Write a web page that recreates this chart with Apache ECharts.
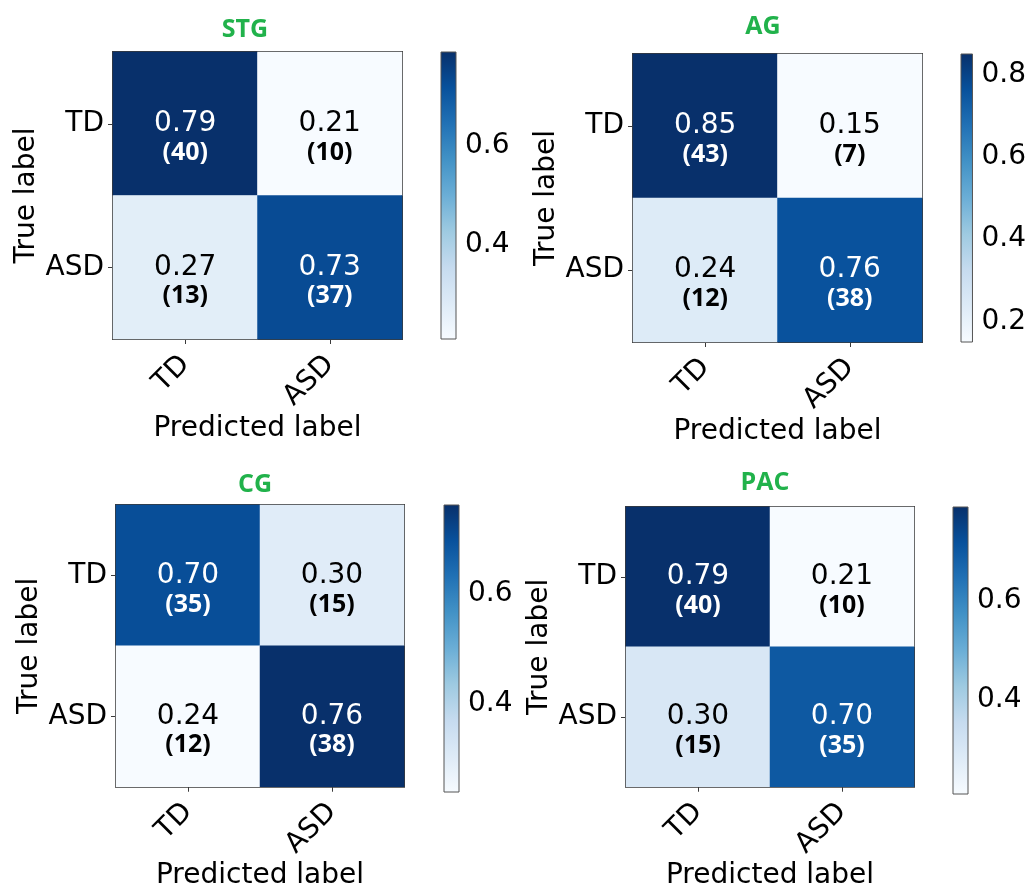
<!DOCTYPE html>
<html>
<head>
<meta charset="utf-8">
<title>Confusion matrices</title>
<script src="https://cdn.jsdelivr.net/npm/echarts@6/dist/echarts.min.js"></script>
<style>
  html, body { margin: 0; padding: 0; background: #fff; }
  #chart { width: 1029px; height: 891px; }
</style>
</head>
<body>
<div id="chart"></div>
<script>
// Class labels shared by every matrix (rows = true label, columns = predicted label)
const categories = ['TD', 'ASD'];

// Region names, one matrix each
const regions = ['STG', 'AG', 'CG', 'PAC'];

// Normalised rates per region [row][col]
const ratesSTG = [[0.79, 0.21], [0.27, 0.73]];
const ratesAG  = [[0.85, 0.15], [0.24, 0.76]];
const ratesCG  = [[0.70, 0.30], [0.24, 0.76]];
const ratesPAC = [[0.79, 0.21], [0.30, 0.70]];

// Raw counts per region [row][col]
const countsSTG = [[40, 10], [13, 37]];
const countsAG  = [[43, 7], [12, 38]];
const countsCG  = [[35, 15], [12, 38]];
const countsPAC = [[40, 10], [15, 35]];

// Colour bar tick values per region
const ticksSTG = [0.4, 0.6];
const ticksAG  = [0.2, 0.4, 0.6, 0.8];
const ticksCG  = [0.4, 0.6];
const ticksPAC = [0.4, 0.6];

const rates = [ratesSTG, ratesAG, ratesCG, ratesPAC];
const counts = [countsSTG, countsAG, countsCG, countsPAC];
const cbTicks = [ticksSTG, ticksAG, ticksCG, ticksPAC];

// Sequential "Blues" colour map
const BLUES = ['#f7fbff', '#deebf7', '#c6dbef', '#9ecae1', '#6baed6',
               '#4292c6', '#2171b5', '#08519c', '#08306b'];

// Panel placement: matrix box, colour bar box, title anchor
const layout = [
  { m: [113, 52, 289, 287], cb: [441, 52, 15, 287], t: [245, 30] },
  { m: [633, 54, 289, 288], cb: [961, 54, 15, 288], t: [763, 27] },
  { m: [116, 505, 288, 287], cb: [444, 505, 15, 287], t: [255, 485] },
  { m: [626, 507, 288, 287], cb: [953, 507, 15, 287], t: [765, 483] }
];

const FONT = 'DejaVu Sans';
const BOLD_FONT = 'Open Sans';
const FS = 28;
const FRAME = '#3a3a3a';

const grids = [], xAxes = [], yAxes = [], series = [], visualMaps = [], graphics = [];

regions.forEach((name, i) => {
  const L = layout[i];
  const r = rates[i], c = counts[i];
  const flat = r.flat();
  const vmin = Math.min(...flat), vmax = Math.max(...flat);
  const thresh = vmax / 2;

  // --- matrix grid ---
  const gM = grids.length;
  grids.push({
    left: L.m[0], top: L.m[1], width: L.m[2], height: L.m[3],
    show: true, borderColor: FRAME, borderWidth: 2, backgroundColor: 'transparent'
  });
  const xM = xAxes.length;
  xAxes.push({
    gridIndex: gM, type: 'category', data: categories, position: 'bottom',
    axisLine: { show: false },
    axisTick: { show: true, alignWithLabel: true, length: 5, lineStyle: { color: FRAME } },
    axisLabel: { rotate: 45, margin: 21, fontSize: FS, fontFamily: FONT, color: '#000' },
    splitLine: { show: false },
    name: 'Predicted label', nameLocation: 'middle', nameGap: 73,
    nameTextStyle: { fontSize: FS, fontFamily: FONT, color: '#000' }
  });
  const yM = yAxes.length;
  yAxes.push({
    gridIndex: gM, type: 'category', data: categories, inverse: true,
    axisLine: { show: false },
    axisTick: { show: true, alignWithLabel: true, length: 5, lineStyle: { color: FRAME } },
    axisLabel: { margin: 9, fontSize: FS, fontFamily: FONT, color: '#000' },
    splitLine: { show: false },
    name: 'True label', nameLocation: 'middle', nameGap: 72, nameRotate: 90,
    nameTextStyle: { fontSize: FS, fontFamily: FONT, color: '#000' }
  });

  const cells = [];
  for (let row = 0; row < categories.length; row++) {
    for (let col = 0; col < categories.length; col++) {
      cells.push([col, row, r[row][col], c[row][col]]);
    }
  }
  const sIdx = series.length;
  series.push({
    type: 'heatmap', xAxisIndex: xM, yAxisIndex: yM, data: cells,
    itemStyle: { borderWidth: 0 },
    emphasis: { disabled: true },
    label: {
      show: true, offset: [0, 14],
      formatter: p => {
        const dark = p.value[2] > thresh;
        const k = dark ? 'w' : 'k';
        return '{' + k + 'v|' + p.value[2].toFixed(2) + '}\n{' + k + 'c|(' + p.value[3] + ')}';
      },
      rich: {
        wv: { color: '#fff', fontSize: FS, fontFamily: FONT, lineHeight: 30 },
        wc: { color: '#fff', fontSize: 25, fontFamily: BOLD_FONT, fontWeight: 'bold', lineHeight: 28 },
        kv: { color: '#000', fontSize: FS, fontFamily: FONT, lineHeight: 30 },
        kc: { color: '#000', fontSize: 25, fontFamily: BOLD_FONT, fontWeight: 'bold', lineHeight: 28 }
      }
    }
  });
  visualMaps.push({
    type: 'continuous', show: false, seriesIndex: sIdx, dimension: 2,
    min: vmin, max: vmax, inRange: { color: BLUES }
  });

  // --- colour bar grid ---
  const gC = grids.length;
  grids.push({ left: L.cb[0], top: L.cb[1], width: L.cb[2], height: L.cb[3] });
  const xC = xAxes.length;
  xAxes.push({ gridIndex: gC, type: 'value', min: 0, max: 1, show: false });
  const yC = yAxes.length;
  yAxes.push({
    gridIndex: gC, type: 'value', min: vmin, max: vmax, position: 'right',
    axisLine: { show: false },
    splitLine: { show: false },
    axisTick: { show: true, length: 5, customValues: cbTicks[i], lineStyle: { color: FRAME } },
    axisLabel: {
      margin: 9, fontSize: FS, fontFamily: FONT, color: '#000',
      customValues: cbTicks[i], formatter: v => v.toFixed(1)
    }
  });
  series.push({
    type: 'custom', xAxisIndex: xC, yAxisIndex: yC, clip: false,
    data: [[0, vmin, 1, vmax]],
    silent: true,
    renderItem: (params, api) => {
      const p0 = api.coord([api.value(0), api.value(1)]);
      const p1 = api.coord([api.value(2), api.value(3)]);
      const stops = BLUES.map((col, k) => ({ offset: k / (BLUES.length - 1), color: col }));
      return {
        type: 'rect',
        shape: { x: p0[0], y: p1[1], width: p1[0] - p0[0], height: p0[1] - p1[1] },
        style: {
          fill: new echarts.graphic.LinearGradient(0, 1, 0, 0, stops),
          stroke: '#555', lineWidth: 1
        }
      };
    }
  });

  // --- panel title ---
  graphics.push({
    type: 'text', x: L.t[0], y: L.t[1],
    style: {
      text: name, textAlign: 'center', textVerticalAlign: 'middle',
      fill: '#21b24b', fontSize: 25, fontWeight: 'bold', fontFamily: BOLD_FONT
    }
  });
});

const chart = echarts.init(document.getElementById('chart'), null, { renderer: 'canvas' });
chart.setOption({
  animation: false,
  backgroundColor: '#fff',
  grid: grids,
  xAxis: xAxes,
  yAxis: yAxes,
  visualMap: visualMaps,
  series: series,
  graphic: graphics
});
</script>
</body>
</html>
